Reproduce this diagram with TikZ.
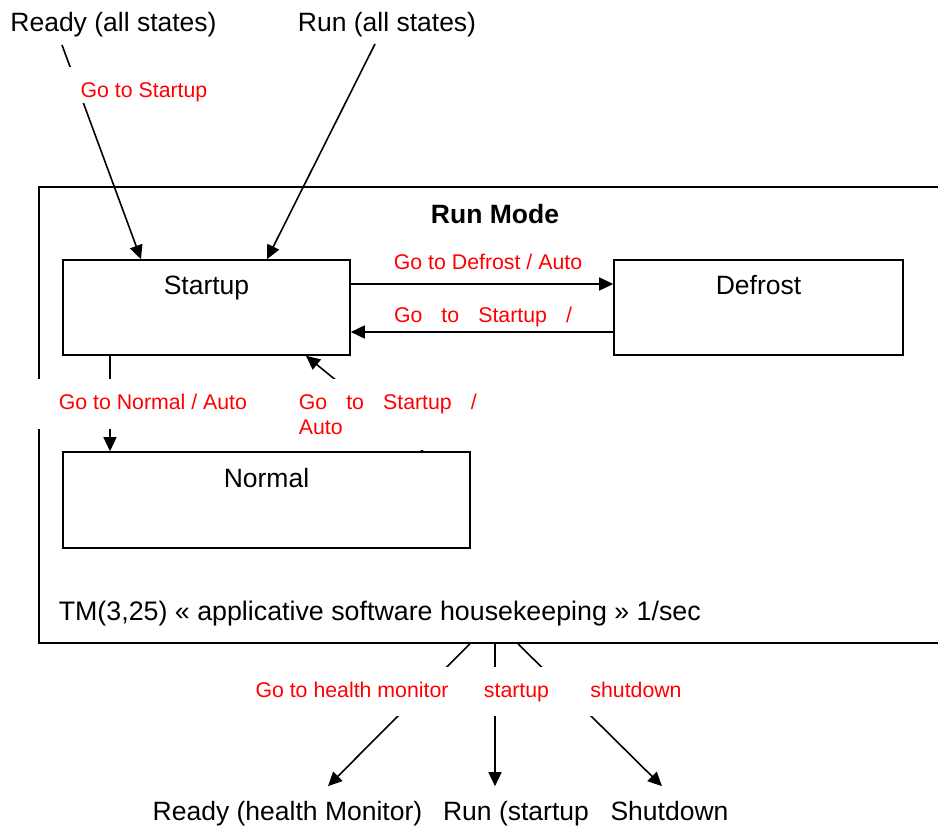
\documentclass[tikz,border=0pt]{standalone}
\usepackage{fontspec}
\setmainfont{Liberation Sans}
\usetikzlibrary{arrows.meta,positioning}

\begin{document}
\begin{tikzpicture}[x=1pt,y=-1pt,>={Triangle[length=14pt,width=13pt]},line width=1.6pt,
  big/.style={font=\fontsize{26.5}{30}\selectfont,inner sep=0pt,text height=19pt,text depth=5.5pt},
  target/.style={big,inner ysep=14pt},
  trans/.style={font=\fontsize{21.3}{25}\selectfont,text=red,inner sep=0pt},
  lbl/.style={trans,text height=15.5pt,text depth=4.5pt},
  cover/.style={lbl,fill=white},
  row/.style={cover,minimum height=49pt,inner xsep=3pt},
  state/.style={draw,inner sep=0pt}]
\useasboundingbox (0,0) rectangle (938,829);
\clip (0,0) rectangle (938,829);

\node[big] (readyall) at (113.5,25) {Ready (all states)};
\node[big] (runall) at (387,25) {Run (all states)};
\coordinate (readytail) at (62,45);
\coordinate (runtail) at (375,44);

\node[state,minimum width=921pt,minimum height=456pt] (runmode) at (499.5,415) {};
\node[big,font=\fontsize{26.5}{30}\selectfont\bfseries] (runtitle) at (495,217.25) {Run Mode};

\node[state,minimum width=287pt,minimum height=95pt] (startup) at (206.5,307.5) {};
\node[big,below=16pt of startup.north] (startuptxt) {Startup};
\node[state,minimum width=289pt,minimum height=95pt] (defrost) at (758.5,307.5) {};
\node[big,below=16pt of defrost.north] (defrosttxt) {Defrost};
\node[state,minimum width=407pt,minimum height=96pt] (normal) at (266.5,500) {};
\node[big,below=16pt of normal.north] (normaltxt) {Normal};

\node[big,anchor=west,font=\fontsize{26.8}{30}\selectfont] (tmline) at (58,614) {TM(3,25) « applicative software housekeeping » 1/sec};

\node[target] (readyhm) at (287.5,813.25) {Ready (health Monitor)};
\node[target] (runstart) at (516,813.25) {Run (startup};
\node[target] (shut) at (669.5,813.25) {Shutdown};

\draw[->] (readytail) -- ([xshift=-65.5pt]startup.north);
\draw[->] (runtail) -- ([xshift=60.5pt]startup.north);
\draw[->] ([yshift=23.5pt]startup.east) -- ([yshift=23.5pt]defrost.west);
\draw[->] ([yshift=-24.5pt]defrost.west) -- ([yshift=-24.5pt]startup.east);
\draw[->] ([xshift=-96.5pt]startup.south) -- ([xshift=-96.5pt]startup.south |- normal.north);
\draw[->] ([xshift=156.5pt]normal.north) -- ([xshift=99.5pt]startup.south);
\draw[->] ([xshift=-29.5pt]runmode.south) -- ([xshift=40.5pt]readyhm.north);
\draw[->] ([xshift=-4.5pt]runmode.south) -- ([xshift=-21pt]runstart.north);
\draw[->] ([xshift=18.5pt]runmode.south) -- ([xshift=-7.5pt]shut.north);

\node[cover,text height=30.5pt,text depth=5.5pt,minimum width=152pt] (lblready) at (144,85) {Go to Startup};
\node[lbl] (lbldef) at (488,263.8) {Go to Defrost / Auto};
\node[lbl] (lblret) at (483,317.5) {\makebox[178pt][s]{Go\hfill to\hfill Startup\hfill /}};
\node[cover,anchor=west,minimum height=50pt,inner xsep=22pt] (lblnorm) at (36,403.5) {Go to Normal / Auto};
\node[trans,fill=white,anchor=north west,inner xsep=3pt,inner ysep=15.5pt,text width=178pt,align=left] (lblback) at (295,378) {\makebox[178pt][s]{Go\hfill to\hfill Startup\hfill /}\\Auto};
\node[row] (lblhm) at (352,691.5) {Go to health monitor};
\node[row,minimum width=190pt] (lblshut) at (636,691.5) {shutdown};
\node[row] (lblrun) at (516.5,691.5) {startup};
\end{tikzpicture}
\end{document}
